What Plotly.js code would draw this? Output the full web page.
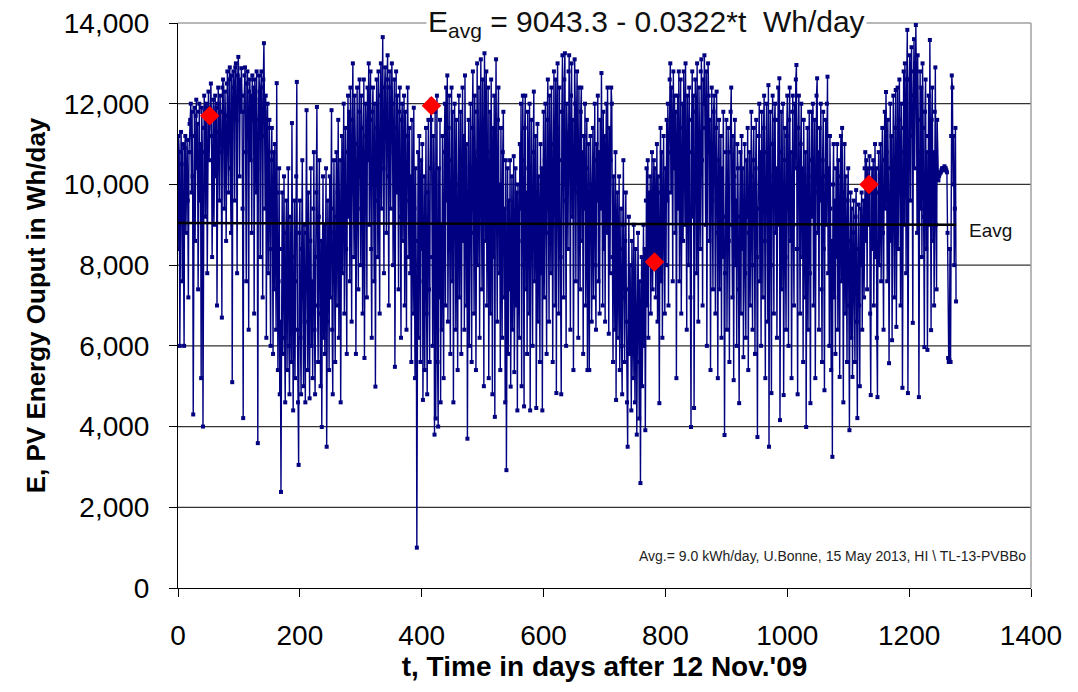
<!DOCTYPE html>
<html>
<head>
<meta charset="utf-8">
<script src="https://cdn.plot.ly/plotly-3.0.1.min.js"></script>
<style>html,body{margin:0;padding:0;background:#fff;}#chart{width:1078px;height:692px;}</style>
</head>
<body>
<div id="chart"></div>
<script>
// Daily PV energy output, Wh/day, day 0 = 12 Nov 2009 (values read/estimated from the picture)
const energyWh = [
8400,11200,10800,6000,9800,11300,10500,7600,11000,9200,6000,10900,11200,8800,10400,11100,9600,7200,10800,11500,
11600,12000,9800,11800,10200,4300,11200,11900,8600,11700,12100,10400,11500,7400,11800,12000,9600,11000,5200,11900,
10800,4000,11400,12200,11800,9200,12000,11600,7800,11900,12300,10600,11700,11900,12500,11200,8200,11800,12100,9000,
11600,12200,10200,11900,7000,12000,12400,11300,9600,12200,11800,10800,6700,12400,12600,11000,9400,12300,11700,8600,
12500,12800,11200,9800,12600,12900,10400,8800,12700,5100,11800,12800,12400,9600,12900,13000,11600,7800,12700,13160,
12400,10200,12600,11800,12880,12200,9400,4210,11800,12700,12900,10800,7600,12500,12800,11400,6400,12300,12600,10600,
12200,8800,12700,11600,12400,6800,12600,12100,9800,12800,10400,3590,11600,12700,12300,8200,12400,12800,11200,7200,
12600,13500,11800,9400,12200,6200,11400,12000,7800,10800,11600,8400,6000,10600,11400,9200,5800,10800,7400,11000,
8600,6400,12510,9800,5400,7600,10400,4800,6600,2380,8400,9800,5800,7200,10200,6200,4600,8800,9600,5400,
7800,10400,6000,4800,9200,7400,5600,11520,8200,4400,6800,9600,5200,7600,10200,12540,6400,4600,3050,8800,
9600,6200,4800,8400,10600,7200,5000,9000,6600,4600,8800,11840,7400,5400,9800,6800,4700,8600,10400,6000,
7600,5200,9400,10800,6400,4800,8200,9800,11920,7000,5600,9200,10600,6800,5000,8600,3990,7800,10200,6200,
9000,5800,7400,10400,3500,6600,9600,8000,5400,10200,7200,9400,11840,6400,4800,8800,10600,7600,5600,9200,
10800,7000,9800,11600,6200,8800,10600,4600,9400,11200,7800,10000,12000,6800,9200,11400,8400,5800,10800,12200,
9200,11800,7600,12400,10400,6600,11600,13000,9800,8200,12200,11000,5800,10600,12400,9400,7400,11800,12600,10200,
8000,12200,11400,6800,10800,12600,5700,9800,12000,11200,7200,12400,10600,13000,9000,11600,12800,8400,6200,11800,
12400,10000,7600,12000,4990,9600,12600,11400,8200,12800,10800,6800,12200,13000,9400,11600,13650,10400,7800,12400,
12900,11200,8800,12600,13200,10200,7000,12400,12800,9400,11600,13000,12000,8000,10800,12600,5480,11400,12800,9800,
12200,10600,7400,11800,12400,9200,6200,11600,12000,8600,10400,12200,7000,11800,9600,6400,11200,12400,10000,8200,
11400,7800,10200,5600,11600,9000,6800,11900,9400,5200,10400,8000,1000,8600,10800,6200,11200,9600,5600,10600,
8400,11000,4660,7600,10200,5400,9200,11400,6800,4800,9800,11600,7400,5600,10400,12100,11600,8200,6000,11200,
9400,3800,11800,4200,8800,12200,5600,4000,10400,7200,11600,4600,9000,6400,11200,8400,5200,10800,12000,7000,
12400,9600,12700,6600,11400,12200,8400,5800,10600,12400,7600,11800,4600,9200,12000,10200,6400,11600,8800,5400,
10000,12200,7200,9600,11800,5800,10400,12400,8600,11200,6400,12700,9800,7000,11000,3700,8200,11600,6000,10400,
12000,8800,5600,11400,12800,9400,6800,12200,10600,5400,11800,13000,8000,10800,12400,6200,11200,13100,9600,7400,
12600,10400,5000,13250,11600,8600,12800,7000,10800,12400,5200,9400,11800,6800,12600,10200,4800,11400,8200,12200,
4240,10600,13100,9000,6600,11600,12400,7800,10000,5400,11400,8400,6200,10800,11800,7200,9400,4600,10600,2920,
8200,10400,5800,9600,7400,10600,4990,8800,10200,6400,9200,10700,5350,8000,10400,7000,9800,4400,10000,8600,
6200,11000,9400,12000,5000,10600,12200,8000,4500,11400,12200,7400,9800,5800,11800,10400,6800,12000,4400,9200,
11600,8400,6000,10800,12300,7600,9800,11200,4460,8800,11500,6600,10200,9000,5600,11000,7800,10400,4400,9600,
11800,7200,10600,12000,8800,5800,11600,12600,9400,6600,12200,10800,7800,12400,11000,5600,9600,12800,10400,7000,
12600,4830,11400,13000,9000,6800,12400,10600,8200,4800,11800,13200,10000,7200,12600,13250,9600,6000,12000,11200,
8400,12800,13200,10400,6400,12200,13000,9200,11600,5400,10800,13100,12000,7600,11400,12800,9800,6200,12400,10600,
7400,11800,12400,8600,10800,5800,11200,9400,12000,7000,10400,11600,5400,9800,11000,5400,8800,11200,10000,6600,
9200,11400,7200,10600,12000,8000,6400,11000,9600,12200,7600,10800,6800,11600,9400,12760,10200,7000,11800,8400,
11200,6600,10400,12000,8800,12400,9800,6300,11400,7800,10600,12400,12000,8200,5600,10200,9000,6400,10800,4660,
8800,9800,6200,7600,10200,5400,8400,9400,6000,4800,9000,10600,7200,5600,8600,9800,6600,4600,3500,7400,
9200,5800,8000,6600,4400,8600,7200,5200,9000,6000,4600,8400,7000,3800,5600,8800,6800,4200,7600,2600,
6400,8200,5000,7800,9000,6000,8400,3910,9600,10400,7000,10600,6200,9800,8000,10200,6800,9400,10800,7400,
9800,10600,8080,10400,7200,9600,11000,6600,10200,8400,4580,9800,11400,7600,10800,6200,9400,11200,8800,6800,
10400,8000,11600,9600,12000,7000,10800,12600,13000,9800,12400,11200,7600,12800,10400,12200,8800,11800,5200,10600,
12200,9400,12800,7600,11400,12600,6800,10400,12000,8600,12800,11600,9000,13000,10200,6400,12200,11000,8000,12400,
10800,7200,3990,11600,12800,9200,12200,4460,10000,12600,11800,7800,13000,10400,6600,12400,11200,8400,12800,13100,
10600,7000,12600,12000,13200,11400,9000,12800,6000,10800,13000,12200,8600,11600,5400,10200,12400,9600,7400,11800,
12200,10000,6800,11400,12300,8800,5200,10600,11600,7400,9600,11200,6200,10400,8200,11800,9200,3790,7800,10800,
11600,6400,9800,11400,8600,5600,10800,11800,12400,9000,7200,11200,5150,10200,11600,8000,9600,6000,11000,10400,
7400,4580,9200,10800,6800,11200,8400,10400,5720,9600,11000,7800,6200,10600,9200,11400,5400,8800,10800,7000,
10200,11800,8000,6400,10600,11400,9000,5800,10400,11600,8200,3740,9400,11200,12000,7600,10800,6000,11800,9800,
7200,11400,12200,8600,5200,10800,12000,9400,6600,12460,3500,10200,11800,8000,4830,11000,12200,9600,6800,11600,
12000,8800,10400,6200,11600,12400,9000,12630,4160,10800,11800,7400,9800,12000,4780,10600,11400,8200,6400,11200,
12200,9400,6000,11600,12400,8600,10800,5200,11800,12200,9000,7000,12000,10400,12600,12960,8400,4800,11400,12200,
9600,6800,11000,12000,8200,10400,5600,11600,9000,7200,10800,3990,8800,11400,6400,10200,11800,7800,4580,10600,
11800,9200,12000,7000,10400,11600,5200,9800,12200,12630,8800,10800,6400,11400,9600,12000,7400,5600,10600,11800,
8400,4900,10200,11600,9000,12000,12670,7800,10400,6000,11200,9400,5400,8600,3250,10000,11000,7200,9600,5800,
10400,8200,11000,6400,10600,9000,5230,10200,11200,7600,11400,8800,4600,9800,11000,6800,10200,8400,5600,9600,
10400,7000,3910,8600,9800,6200,9400,5230,8800,9600,7400,5600,9200,9860,6600,4210,8400,9500,7000,5000,
9400,8000,9800,6400,8800,9600,7200,10400,10800,8600,10600,7400,10400,9000,10000,10700,6800,4780,9800,10400,
8400,10600,7000,9600,11000,8200,10400,6200,4730,9800,10800,8000,10200,11000,7600,9400,11400,8800,6400,10600,
11800,9400,12290,10800,7600,11600,9800,5570,10400,12000,8600,11200,6140,10600,12200,9200,7200,11400,12340,6470,
10800,12400,8400,11600,12600,9800,7000,12000,10800,4960,11400,12800,9000,13000,11800,7800,12600,13830,4830,10400,
12600,13200,9600,12800,13400,11200,6570,12200,13600,10400,13000,13950,12400,8800,13200,11600,4730,10800,12800,9400,
12400,8200,13000,11400,9200,5970,11800,12600,8400,10800,5900,11200,12200,9000,13580,10600,6390,11600,12400,8600,
10800,7000,11800,12900,9000,7400,11600,10200,10100,10200,10250,10300,10300,10350,10400,10400,10350,10400,10450,10400,
10400,10350,10300,8800,5700,5600,5650,8400,5600,11200,12700,12400,10000,11200,8000,9400,11400,7100
];
const days = energyWh.map((_, i) => i);

// highlighted days (red diamonds)
const markDays = [52, 416, 782, 1134];
const markWh = [11700, 11950, 8080, 10000];

// linear trend Eavg = 9043.3 - 0.0322*t, drawn between its end days
const trendDays = [0, 1277];
const trendWh = [9043.3, 9002.2];

const gridVals = [2000, 4000, 6000, 8000, 10000, 12000];
const yTicks = [0, 2000, 4000, 6000, 8000, 10000, 12000, 14000];
const xTicks = [0, 200, 400, 600, 800, 1000, 1200, 1400];

const sans = '"Liberation Sans", Arial, sans-serif';

const traces = [
  {
    x: days, y: energyWh, type: 'scatter', mode: 'lines+markers',
    line: {color: '#000080', width: 1.4},
    marker: {color: '#000080', size: 4, symbol: 'square'},
    hoverinfo: 'x+y', showlegend: false
  },
  {
    x: trendDays, y: trendWh, type: 'scatter', mode: 'lines',
    line: {color: '#000000', width: 2.5}, showlegend: false
  },
  {
    x: markDays, y: markWh, type: 'scatter', mode: 'markers',
    marker: {color: '#ff0000', size: 15, symbol: 'diamond'}, showlegend: false
  }
];

const shapes = gridVals.map(v => ({
  type: 'line', xref: 'paper', yref: 'y', x0: 0, x1: 1, y0: v, y1: v,
  line: {color: '#333333', width: 1.2}, layer: 'below'
}));
shapes.push({type: 'line', xref: 'paper', yref: 'paper', x0: 0, x1: 1, y0: 1, y1: 1,
  line: {color: '#a0a0a0', width: 1.5}, layer: 'below'});
shapes.push({type: 'line', xref: 'paper', yref: 'paper', x0: 1, x1: 1, y0: 0, y1: 1,
  line: {color: '#a0a0a0', width: 1.5}, layer: 'below'});

const layout = {
  width: 1078, height: 692,
  margin: {l: 178, r: 47, t: 23, b: 104},
  paper_bgcolor: '#ffffff', plot_bgcolor: '#ffffff',
  showlegend: false,
  xaxis: {
    range: [0, 1400], tickvals: xTicks, ticks: 'outside', ticklen: 8, tickcolor: '#000',
    showline: true, linecolor: '#000', linewidth: 1, showgrid: false, zeroline: false,
    ticklabelstandoff: 14,
    tickfont: {family: sans, size: 28, color: '#000'},
    title: {text: "<b>t, Time in days after 12 Nov.'09</b>", font: {family: sans, size: 28, color: '#000'}, standoff: 6}
  },
  yaxis: {
    range: [0, 14000], tickvals: yTicks, tickformat: ',', ticks: 'outside', ticklen: 8, tickcolor: '#000',
    showline: true, linecolor: '#000', linewidth: 1, showgrid: false, zeroline: false,
    ticklabelstandoff: 14,
    tickfont: {family: sans, size: 28, color: '#000'},
    title: {text: '<b>E, PV Energy Ouput in Wh/day</b>', font: {family: sans, size: 26, color: '#000'}, standoff: 10}
  },
  shapes: shapes,
  annotations: [
    {
      xref: 'paper', yref: 'paper', x: (647 - 178) / 854, y: 1, xanchor: 'center', yanchor: 'middle',
      text: 'E<sub>avg</sub> = 9043.3 - 0.0322*t\u00a0\u00a0Wh/day', showarrow: false,
      bgcolor: '#ffffff', borderpad: 1,
      font: {family: sans, size: 30, color: '#111'}
    },
    {
      xref: 'paper', yref: 'paper', x: 0.996, y: 0.057, xanchor: 'right', yanchor: 'middle',
      text: 'Avg.= 9.0 kWh/day, U.Bonne, 15 May 2013, HI \\ TL-13-PVBBo', showarrow: false,
      font: {family: sans, size: 14, color: '#222'}
    },
    {
      xref: 'paper', yref: 'y', x: (968 - 178) / 854, y: 8850, xanchor: 'left', yanchor: 'middle',
      text: 'Eavg', showarrow: false,
      font: {family: sans, size: 19, color: '#111'}
    }
  ]
};

Plotly.newPlot('chart', traces, layout, {displayModeBar: false, staticPlot: true});
</script>
</body>
</html>
